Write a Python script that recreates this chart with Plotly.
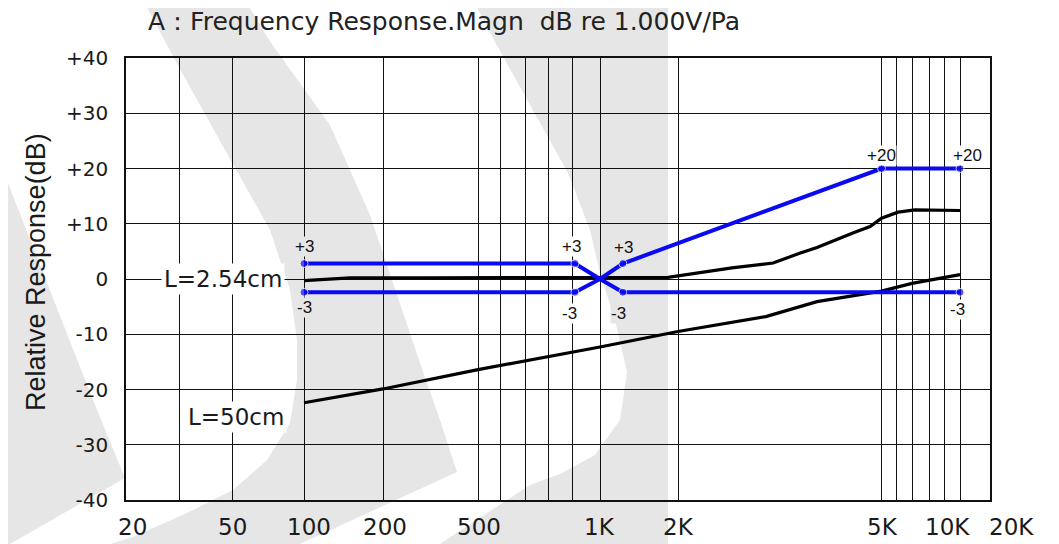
import numpy as np
import plotly.graph_objects as go

# ---------------- data ----------------
mask_upper_freq = [100, 910, 1000, 1225, 5000, 10000]
mask_upper_db = [2.8, 2.8, 0.0, 2.8, 20.0, 20.0]
mask_lower_freq = [100, 910, 1000, 1225, 10000]
mask_lower_db = [-2.4, -2.4, 0.0, -2.4, -2.4]

l254_freq = [100, 150, 300, 1000, 1830, 2550, 3070, 3470, 3740, 4420, 4750, 5000, 6120, 7170, 10000]
l254_db = [-0.3, 0.2, 0.2, 0.2, 0.3, 2.0, 2.9, 4.7, 5.7, 8.4, 9.5, 11.0, 12.1, 12.5, 12.4]

l50_freq = [100, 200, 500, 1000, 2000, 2970, 3740, 4420, 5000, 7000, 10000]
l50_db = [-22.4, -19.9, -16.4, -12.3, -9.5, -6.8, -4.1, -3.0, -2.2, -0.8, 0.8]

x_tick_freqs = [20, 50, 100, 200, 500, 1000, 2000, 5000, 10000, 20000]
x_tick_labels = ["20", "50", "100", "200", "500", "1K", "2K", "5K", "10K", "20K"]
grid_freqs = [20, 30, 50, 100, 200, 500, 600, 700, 800, 900, 1000,
              2000, 5000, 6000, 7000, 8000, 9000, 10000]
y_tick_vals = [-40, -30, -20, -10, 0, 10, 20, 30, 40]
y_tick_labels = ["-40", "-30", "-20", "-10", "0", "+10", "+20", "+30", "+40"]

mask_label_freq = [100, 910, 1225, 100, 910, 1225, 10000, 5000, 10000]
mask_label_db = [2.8, 2.8, 2.8, -2.4, -2.4, -2.4, -2.4, 20.0, 20.0]
mask_label_text = ["+3", "+3", "+3", "-3", "-3", "-3", "-3", "+20", "+20"]

# ---------------- the chart's printed (non-uniform) frequency scale ----------------
knot_freqs = [20, 30, 50, 100, 200, 500, 600, 700, 800, 900, 1000,
              2000, 5000, 6000, 7000, 8000, 9000, 10000, 20000]
knot_pos = [0, 53.5, 106, 178, 257, 352, 374, 399, 422, 446, 474,
            552, 755.5, 770, 786, 803, 818, 834, 885]
X_RANGE = [0, 864]


def fpos(f):
    return np.interp(np.log10(np.asarray(f, dtype=float)), np.log10(knot_freqs), knot_pos)


# ---------------- geometry / style ----------------
PAGE_OFF = 8                      # default body margin of the html page
W, H = 1059 - PAGE_OFF, 544 - PAGE_OFF
ML, MT = 126 - PAGE_OFF, 58 - PAGE_OFF
PW, PH = 864, 442
MR, MB = W - ML - PW, H - MT - PH
MAIN_FONT = "DejaVu Sans"
TXT = "#1a1a1a"
BLUE = "#0a0af2"
GRAY = "#e6e6e6"


def paper_pt(px, py):
    # px, py: page pixel coordinates
    return (px - 126) / PW, (500 - py) / PH


def path_from(points):
    pts = [paper_pt(x, y) for x, y in points]
    return "M " + " L ".join(f"{x:.4f},{y:.4f}" for x, y in pts) + " Z"


# watermark shapes (page pixel outlines)
wm_left = [(-5, 150), (93, 400), (125, 478), (10, 544), (-5, 544)]
wm_mid = [(143, 0), (175, 60), (225, 150), (270, 230), (290, 290), (297, 340),
          (297, 380), (290, 423), (267, 460), (233, 490), (187, 513), (133, 537), (110, 544),
          (300, 544), (457, 472), (440, 420), (423, 372), (392, 280),
          (370, 215), (330, 125), (269, 40), (245, 0)]
wm_right = [(473, 0), (494, 40), (530, 105), (568, 173), (590, 230), (600, 273),
            (615, 320), (627, 372), (620, 420), (595, 455), (560, 474),
            (530, 485), (440, 544), (668, 544), (668, 0)]

fig = go.Figure()

# black response curves
fig.add_trace(go.Scatter(x=fpos(l254_freq), y=l254_db, mode="lines",
                         line=dict(color="black", width=3.2), name="L=2.54cm",
                         showlegend=False, hoverinfo="skip"))
fig.add_trace(go.Scatter(x=fpos(l50_freq), y=l50_db, mode="lines",
                         line=dict(color="black", width=3.2), name="L=50cm",
                         showlegend=False, hoverinfo="skip"))

# blue tolerance mask
up_sizes = [0 if f == 1000 else 8 for f in mask_upper_freq]
lo_sizes = [0 if f == 1000 else 8 for f in mask_lower_freq]
fig.add_trace(go.Scatter(x=fpos(mask_upper_freq), y=mask_upper_db, mode="lines+markers",
                         line=dict(color=BLUE, width=4),
                         marker=dict(color=BLUE, size=up_sizes),
                         showlegend=False, hoverinfo="skip"))
fig.add_trace(go.Scatter(x=fpos(mask_lower_freq), y=mask_lower_db, mode="lines+markers",
                         line=dict(color=BLUE, width=4),
                         marker=dict(color=BLUE, size=lo_sizes),
                         showlegend=False, hoverinfo="skip"))

shapes = []
for poly in (wm_left, wm_mid, wm_right):
    shapes.append(dict(type="path", path=path_from(poly), xref="paper", yref="paper",
                       fillcolor=GRAY, line=dict(width=0), layer="below"))

annotations = []
# mask value labels
label_offsets = [(0, 17), (-3, 17), (1, 16), (0, -15), (-5, -21), (-4, -21), (-3, -17), (0, 13), (7, 13)]
label_bg = [GRAY, "white", GRAY, GRAY, "white", GRAY, "white", "white", "white"]
for f, v, t, (dx, dy), bg in zip(mask_label_freq, mask_label_db, mask_label_text, label_offsets, label_bg):
    annotations.append(dict(x=float(fpos(f)), y=v, xref="x", yref="y", text=t,
                            showarrow=False, xshift=dx, yshift=dy,
                            xanchor="center", yanchor="middle",
                            font=dict(family="Liberation Sans", size=17, color="#111"),
                            bgcolor=bg, borderpad=0))

# curve labels
annotations.append(dict(x=float(fpos(46)), y=0, xref="x", yref="y", text="L=2.54cm",
                        showarrow=False, xanchor="center", yanchor="middle",
                        font=dict(family=MAIN_FONT, size=23, color=TXT),
                        bgcolor="white", borderpad=2))
annotations.append(dict(x=float(fpos(52)), y=-25.0, xref="x", yref="y", text="L=50cm",
                        showarrow=False, xanchor="center", yanchor="middle",
                        font=dict(family=MAIN_FONT, size=23, color=TXT),
                        bgcolor="white", borderpad=2))

# x tick labels (printed slightly off their grid lines in the original; 20K lies past the frame)
x_label_shift = [6, 0, 5, 2, 1, -1, 0, 1, -13, 0]
for f, t, dx in zip(x_tick_freqs, x_tick_labels, x_label_shift):
    annotations.append(dict(x=float(fpos(f)) / PW, y=0, xref="paper", yref="paper", text=t,
                            showarrow=False, xanchor="center", yanchor="top",
                            xshift=dx, yshift=-12,
                            font=dict(family=MAIN_FONT, size=23, color=TXT)))

# y axis title
annotations.append(dict(x=(36 - 126) / PW, y=(500 - 272) / PH, xref="paper", yref="paper",
                        text="Relative Response(dB)", textangle=-90, showarrow=False,
                        xanchor="center", yanchor="middle",
                        font=dict(family="Liberation Sans", size=27, color=TXT)))

# x gridlines at every printed grid frequency
x_tickvals = [float(fpos(f)) for f in grid_freqs]

fig.update_layout(
    width=W, height=H,
    margin=dict(l=ML, r=MR, t=MT, b=MB, pad=0),
    paper_bgcolor="white",
    plot_bgcolor="rgba(0,0,0,0)",
    shapes=shapes,
    annotations=annotations,
    title=dict(text="A：Frequency Response.Magn  dB re 1.000V/Pa",
               x=(148 - PAGE_OFF) / W, xanchor="left", xref="container",
               y=1 - (21 - PAGE_OFF) / H, yanchor="middle", yref="container",
               font=dict(family=MAIN_FONT, size=25, color="#222")),
    xaxis=dict(range=X_RANGE, tickmode="array", tickvals=x_tickvals,
               showticklabels=False,
               showgrid=True, gridcolor="#111", gridwidth=1.3, zeroline=False,
               showline=True, mirror=True, linecolor="#111", linewidth=1.6,
               ticks="", automargin=False, fixedrange=True),
    yaxis=dict(range=[-40, 40], tickmode="array", tickvals=y_tick_vals, ticktext=y_tick_labels,
               showgrid=True, gridcolor="#111", gridwidth=1.3, zeroline=False,
               showline=True, mirror=True, linecolor="#111", linewidth=1.6,
               ticks="", automargin=False, fixedrange=True,
               ticklabelstandoff=12,
               tickfont=dict(family=MAIN_FONT, size=20, color=TXT)),
)

fig.write_html("out.html")
